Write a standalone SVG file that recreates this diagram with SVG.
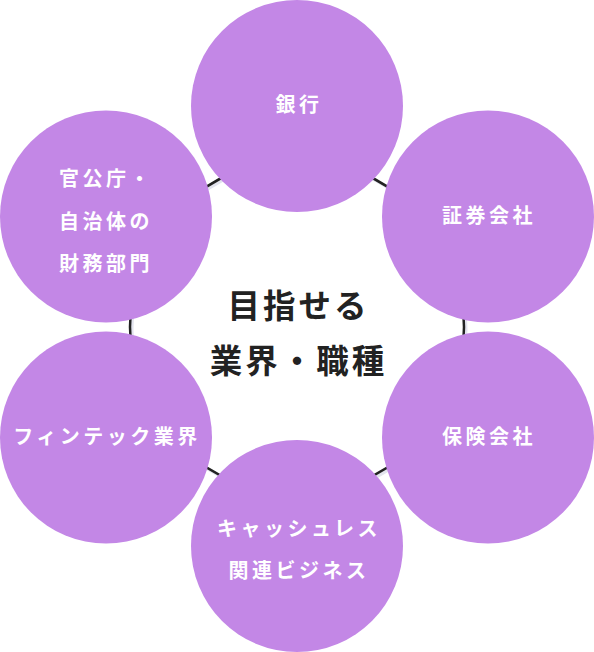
<svg xmlns="http://www.w3.org/2000/svg" width="594" height="652" viewBox="0 0 594 652">
<style>
.node{fill:#c387e6;}
.lbl{fill:#ffffff;font-family:"Noto Sans CJK JP","Noto Sans",sans-serif;font-size:20px;font-weight:600;letter-spacing:3.5px;text-anchor:middle;}
.title{fill:#222222;font-family:"Noto Sans CJK JP","Noto Sans",sans-serif;font-size:32.5px;font-weight:700;letter-spacing:3px;text-anchor:middle;}
</style>
<rect width="594" height="652" fill="#ffffff"/>
<g id="connectors">
<circle cx="299" cy="329" r="167" fill="none" stroke="#e3e4ee" stroke-width="3"/>
<circle cx="297" cy="327" r="167" fill="none" stroke="#222222" stroke-width="2.5"/>
</g>
<g id="center">
<text class="title" x="298.5" y="318">目指せる</text>
<text class="title" x="298.5" y="373">業界・職種</text>
</g>
<g id="node-bank">
<circle class="node" cx="297" cy="106" r="106"/>
<text class="lbl" x="299" y="112">銀行</text>
</g>
<g id="node-securities">
<circle class="node" cx="488" cy="216.5" r="106"/>
<text class="lbl" x="489" y="223">証券会社</text>
</g>
<g id="node-insurance">
<circle class="node" cx="488" cy="437.5" r="106"/>
<text class="lbl" x="489" y="444">保険会社</text>
</g>
<g id="node-cashless">
<circle class="node" cx="297" cy="546" r="106"/>
<text class="lbl" x="299" y="536">キャッシュレス</text>
<text class="lbl" x="299" y="578">関連ビジネス</text>
</g>
<g id="node-fintech">
<circle class="node" cx="106" cy="437.5" r="106"/>
<text class="lbl" x="107" y="444">フィンテック業界</text>
</g>
<g id="node-government">
<circle class="node" cx="106" cy="216.5" r="106"/>
<text class="lbl" x="106" y="186">官公庁・</text>
<text class="lbl" x="106" y="229">自治体の</text>
<text class="lbl" x="106" y="271">財務部門</text>
</g>
</svg>
